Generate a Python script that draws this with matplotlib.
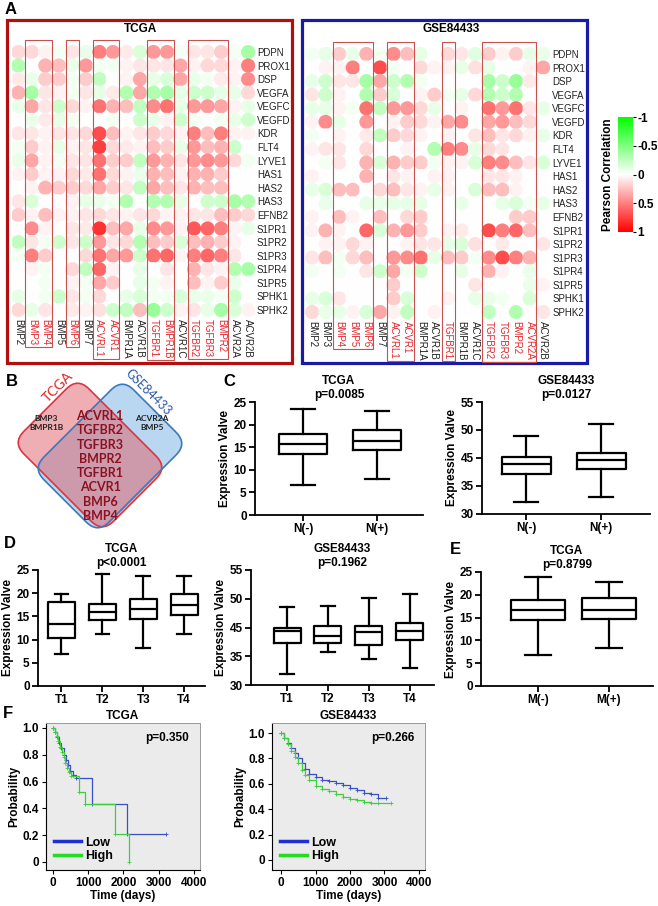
import numpy as np
import matplotlib
matplotlib.use('Agg')
import matplotlib.pyplot as plt
from matplotlib.colors import LinearSegmentedColormap, Normalize
from matplotlib.cm import ScalarMappable
from matplotlib.patches import Rectangle, FancyBboxPatch
from matplotlib.transforms import Affine2D

plt.rcParams['font.family'] = ['Liberation Sans', 'DejaVu Sans']

W, H = 658, 906

# ---- panel A data ----
genes = ['PDPN', 'PROX1', 'DSP', 'VEGFA', 'VEGFC', 'VEGFD', 'KDR', 'FLT4', 'LYVE1', 'HAS1',
         'HAS2', 'HAS3', 'EFNB2', 'S1PR1', 'S1PR2', 'S1PR3', 'S1PR4', 'S1PR5', 'SPHK1', 'SPHK2']
tcga_cols = ['BMP2', 'BMP3', 'BMP4', 'BMP5', 'BMP6', 'BMP7', 'ACVRL1', 'ACVR1', 'BMPR1A', 'ACVR1B',
             'TGFBR1', 'BMPR1B', 'ACVR1C', 'TGFBR2', 'TGFBR3', 'BMPR2', 'ACVR2A', 'ACVR2B']
gse_cols = ['BMP2', 'BMP3', 'BMP4', 'BMP5', 'BMP6', 'BMP7', 'ACVRL1', 'ACVR1', 'BMPR1A', 'ACVR1B',
            'TGFBR1', 'BMPR1B', 'ACVR1C', 'TGFBR2', 'TGFBR3', 'BMPR2', 'ACVR2A', 'ACVR2B']
tcga_groups = [['BMP3', 'BMP4'], ['BMP6'], ['ACVRL1', 'ACVR1'], ['TGFBR1', 'BMPR1B'],
               ['TGFBR2', 'TGFBR3', 'BMPR2']]
gse_groups = [['BMP4', 'BMP5', 'BMP6'], ['ACVRL1', 'ACVR1'], ['TGFBR1'],
              ['TGFBR2', 'TGFBR3', 'BMPR2', 'ACVR2A']]

tcga_corr = [
    [0.15, 0.15, 0.05, -0.05, 0.1, -0.08, 0.5, 0.4, 0.08, -0.15, 0.4, 0.4, -0.05, 0.1, 0.1, 0.2, -0.05, -0.35],
    [-0.3, 0.0, 0.3, 0.25, -0.08, 0.4, -0.05, -0.05, 0.05, 0.1, 0.1, 0.1, 0.35, 0.05, 0.15, 0.15, 0.05, 0.5],
    [0.08, -0.08, 0.2, 0.2, -0.05, 0.2, -0.25, 0.0, 0.05, 0.35, -0.1, -0.15, 0.35, -0.08, -0.05, 0.08, 0.05, 0.45],
    [0.3, -0.35, 0.1, 0.05, -0.05, 0.1, -0.1, 0.08, -0.3, 0.35, -0.3, -0.35, -0.1, -0.2, -0.2, -0.1, -0.1, 0.15],
    [-0.08, 0.35, 0.1, -0.2, 0.15, 0.05, 0.55, 0.3, 0.25, -0.25, 0.45, 0.55, -0.1, 0.4, 0.4, 0.35, 0.05, -0.1],
    [0.0, -0.08, 0.08, -0.1, -0.05, 0.0, 0.0, -0.05, 0.0, -0.2, -0.08, 0.05, -0.2, -0.05, 0.0, -0.05, -0.1, -0.2],
    [0.1, 0.1, 0.05, 0.1, 0.1, 0.15, 0.7, 0.25, 0.05, 0.1, 0.2, 0.15, 0.05, 0.5, 0.25, 0.5, 0.05, 0.05],
    [-0.05, 0.2, 0.05, -0.1, 0.05, 0.1, 0.75, 0.15, 0.08, 0.05, 0.25, 0.2, -0.1, 0.4, 0.25, 0.3, -0.2, 0.0],
    [-0.08, 0.35, 0.05, -0.05, 0.1, 0.1, 0.55, 0.2, 0.2, -0.25, 0.4, 0.3, 0.1, 0.4, 0.45, 0.4, 0.15, -0.05],
    [0.05, 0.2, 0.05, 0.05, 0.15, 0.08, 0.55, 0.15, 0.05, -0.08, 0.3, 0.25, 0.05, 0.3, 0.3, 0.2, 0.0, 0.0],
    [0.0, 0.05, 0.3, 0.2, 0.2, 0.15, 0.35, 0.2, 0.1, -0.25, 0.35, 0.25, 0.1, 0.3, 0.25, 0.25, 0.0, 0.0],
    [0.1, -0.15, 0.0, 0.0, 0.05, -0.1, -0.08, -0.05, -0.3, 0.0, -0.3, -0.3, -0.1, 0.0, -0.2, -0.2, -0.35, -0.3],
    [0.2, 0.05, 0.25, 0.05, 0.05, 0.1, 0.15, 0.1, 0.05, 0.1, 0.15, 0.05, 0.05, 0.1, 0.1, 0.25, 0.2, 0.15],
    [0.0, 0.45, 0.05, 0.0, 0.1, 0.08, 0.8, 0.25, 0.35, -0.1, 0.45, 0.4, 0.05, 0.65, 0.6, 0.5, 0.05, -0.1],
    [-0.25, 0.1, -0.05, -0.2, 0.1, -0.2, 0.4, 0.1, 0.15, -0.3, 0.25, 0.2, -0.15, 0.25, 0.3, 0.2, 0.05, 0.0],
    [-0.05, 0.5, 0.2, 0.0, 0.0, 0.15, 0.55, 0.35, 0.4, -0.2, 0.55, 0.6, 0.05, 0.5, 0.6, 0.5, 0.1, 0.0],
    [0.0, 0.05, -0.05, 0.0, 0.15, -0.25, 0.6, 0.05, 0.0, -0.1, 0.0, 0.1, 0.0, 0.3, 0.1, 0.05, -0.3, -0.35],
    [0.0, 0.0, -0.05, 0.0, 0.05, -0.05, 0.35, 0.2, 0.0, -0.1, -0.05, 0.05, 0.0, 0.25, 0.05, 0.2, -0.08, 0.0],
    [-0.1, 0.0, -0.05, -0.2, 0.1, -0.05, 0.15, 0.0, -0.1, -0.15, -0.05, -0.05, -0.15, -0.08, -0.08, -0.05, -0.2, 0.0],
    [0.15, -0.1, 0.1, 0.0, 0.08, 0.05, 0.12, -0.2, -0.25, 0.25, -0.4, -0.2, 0.05, 0.1, -0.1, -0.35, -0.15, 0.05],
]

gse_corr = [
    [-0.05, -0.1, 0.2, -0.08, 0.3, -0.05, 0.45, 0.25, -0.1, 0.0, 0.15, 0.1, -0.12, 0.2, 0.05, 0.2, -0.1, -0.08],
    [0.0, 0.05, 0.05, 0.5, 0.0, 0.7, -0.05, 0.0, 0.15, 0.05, 0.05, -0.1, 0.12, -0.1, 0.0, 0.0, 0.05, 0.35],
    [-0.1, -0.2, 0.1, 0.1, -0.35, 0.35, -0.2, -0.3, -0.05, 0.0, 0.0, 0.0, 0.0, -0.35, -0.2, -0.4, 0.08, 0.0],
    [0.1, -0.2, 0.05, 0.0, -0.3, 0.2, -0.15, 0.0, 0.05, 0.2, -0.05, -0.1, 0.15, -0.3, -0.2, -0.3, 0.0, 0.0],
    [-0.1, -0.1, 0.05, -0.05, 0.55, -0.25, 0.4, 0.4, 0.15, -0.1, 0.0, 0.05, 0.0, 0.55, 0.4, 0.55, 0.1, -0.1],
    [0.05, 0.45, -0.1, 0.0, 0.4, 0.0, 0.05, 0.2, 0.15, 0.05, 0.35, 0.45, 0.0, 0.35, 0.4, 0.25, 0.15, 0.0],
    [-0.05, 0.0, 0.05, 0.0, 0.08, -0.25, 0.2, 0.15, 0.05, 0.0, 0.05, 0.0, 0.1, 0.25, 0.1, 0.15, 0.05, -0.1],
    [0.05, 0.1, 0.1, 0.0, 0.15, 0.0, 0.0, 0.05, 0.0, -0.3, 0.5, 0.45, -0.1, 0.15, 0.1, 0.0, 0.0, 0.0],
    [0.0, -0.05, 0.1, 0.0, 0.3, -0.15, 0.3, 0.2, 0.2, -0.05, 0.05, 0.05, -0.15, 0.5, 0.45, 0.25, 0.1, -0.15],
    [0.05, 0.0, 0.0, 0.0, 0.3, 0.0, 0.1, 0.05, 0.0, 0.05, 0.05, 0.0, 0.0, 0.1, 0.1, 0.05, 0.0, 0.0],
    [-0.1, -0.15, 0.25, 0.25, 0.0, 0.15, 0.25, 0.1, 0.05, -0.1, 0.05, 0.0, -0.15, 0.25, 0.25, 0.05, 0.0, 0.0],
    [0.0, -0.08, 0.0, 0.0, -0.1, -0.08, -0.1, -0.1, -0.1, 0.0, 0.0, -0.08, 0.0, 0.0, -0.1, -0.15, -0.05, -0.1],
    [0.05, 0.0, 0.25, 0.05, 0.0, 0.25, 0.0, 0.15, 0.2, 0.0, 0.0, 0.0, 0.0, 0.0, 0.0, 0.2, 0.2, 0.0],
    [0.05, 0.3, 0.05, 0.0, 0.6, -0.15, 0.3, 0.4, 0.2, 0.0, 0.05, 0.08, 0.0, 0.7, 0.5, 0.6, 0.25, 0.0],
    [0.0, 0.05, 0.05, 0.15, 0.05, 0.0, 0.0, 0.05, 0.1, 0.1, -0.1, -0.15, 0.12, 0.0, 0.08, 0.0, 0.0, 0.1],
    [0.1, 0.25, -0.05, 0.15, 0.25, 0.0, 0.4, 0.45, 0.55, -0.1, 0.25, 0.2, -0.05, 0.45, 0.7, 0.5, 0.3, 0.0],
    [-0.05, 0.0, -0.05, 0.0, 0.1, -0.2, 0.35, -0.05, -0.2, 0.0, 0.0, -0.1, 0.0, 0.3, 0.05, 0.0, -0.08, 0.0],
    [0.0, 0.0, 0.0, 0.0, 0.0, 0.0, 0.2, 0.0, 0.0, 0.0, 0.0, 0.0, 0.1, 0.0, 0.0, 0.0, -0.08, 0.05],
    [-0.1, -0.15, 0.1, 0.0, 0.0, 0.0, 0.2, -0.15, 0.0, 0.0, 0.05, 0.0, -0.1, -0.08, -0.05, 0.0, -0.15, 0.0],
    [0.15, -0.08, -0.1, 0.05, -0.15, 0.35, 0.05, -0.25, 0.0, 0.05, 0.0, 0.0, 0.0, -0.25, 0.0, -0.3, 0.0, 0.1],
]

# ---- panel B data ----
venn_tcga_only = ['BMP3', 'BMPR1B']
venn_gse_only = ['ACVR2A', 'BMP5']
venn_both = ['ACVRL1', 'TGFBR2', 'TGFBR3', 'BMPR2', 'TGFBR1', 'ACVR1', 'BMP6', 'BMP4']

# ---- panels C, D, E data: (whisker low, q1, median, q3, whisker high) ----
n_groups = ['N(-)', 'N(+)']
t_groups = ['T1', 'T2', 'T3', 'T4']
m_groups = ['M(-)', 'M(+)']
c_tcga_box = [(6.6, 13.5, 15.7, 18.0, 23.4), (7.9, 14.3, 16.4, 18.75, 23.0)]
c_gse_box = [(32.6, 39.0, 41.2, 42.8, 47.4), (33.7, 40.1, 42.1, 43.7, 50.0)]
d_tcga_box = [(6.8, 10.4, 13.3, 18.2, 19.8), (11.2, 14.2, 16.0, 17.7, 24.1),
              (8.1, 14.4, 16.5, 18.7, 23.6), (11.3, 15.3, 17.4, 19.8, 23.7)]
d_gse_box = [(32.4, 39.2, 41.7, 42.5, 46.9), (37.1, 39.1, 40.7, 42.8, 47.2),
             (35.6, 38.7, 41.6, 42.8, 49.0), (33.6, 39.8, 41.7, 43.4, 49.7)]
e_tcga_box = [(6.9, 14.5, 16.7, 18.9, 24.0), (8.4, 14.6, 16.7, 19.3, 22.7)]
tcga_yticks = [0, 5, 10, 15, 20, 25]
gse_yticks = [30, 36.25, 42.5, 48.75, 55]
gse_ytick_labels = ['30', '35', '45', '50', '55']

# ---- panel F data (Kaplan-Meier steps) ----
tcga_low_t = [0, 60, 120, 180, 240, 300, 360, 420, 480, 560, 650, 1100, 2100, 3200]
tcga_low_s = [1.0, 0.97, 0.93, 0.89, 0.85, 0.80, 0.76, 0.72, 0.68, 0.65, 0.63, 0.43, 0.21, 0.21]
tcga_high_t = [0, 50, 100, 150, 200, 250, 300, 350, 400, 450, 500, 730, 920, 1770, 2150]
tcga_high_s = [1.0, 0.97, 0.94, 0.90, 0.86, 0.82, 0.78, 0.74, 0.70, 0.67, 0.64, 0.52, 0.43, 0.21, 0.0]
gse_low_t = [0, 100, 200, 300, 400, 500, 600, 700, 800, 1000, 1200, 1400, 1600, 1800, 2000,
             2200, 2400, 2600, 2800, 3050]
gse_low_s = [1.0, 0.96, 0.92, 0.88, 0.84, 0.80, 0.76, 0.72, 0.68, 0.65, 0.63, 0.62, 0.61, 0.59, 0.57,
             0.55, 0.53, 0.52, 0.49, 0.49]
gse_high_t = [0, 100, 200, 300, 400, 500, 600, 700, 800, 1000, 1200, 1400, 1600, 1800, 2000,
              2200, 2400, 2600, 2800, 3200]
gse_high_s = [1.0, 0.96, 0.91, 0.86, 0.81, 0.76, 0.71, 0.67, 0.63, 0.58, 0.56, 0.54, 0.52, 0.50, 0.48,
              0.47, 0.46, 0.45, 0.45, 0.45]

RED_LABEL = '#e3262d'
BOX_RED = '#c8504f'
cmap = LinearSegmentedColormap.from_list('gwr', ['#00ff00', '#ffffff', '#ff0000'])

fig = plt.figure(figsize=(W / 100, H / 100), dpi=100)


def px_axes(x0, y0, x1, y1):
    return fig.add_axes([x0 / W, 1 - y1 / H, (x1 - x0) / W, (y1 - y0) / H])


canvas = px_axes(0, 0, W, H)
canvas.set_xlim(0, W)
canvas.set_ylim(H, 0)
canvas.axis('off')


def heatmap(x0, dx, y0, dy, cols, corr, red):
    nc, nr = len(cols), len(genes)
    ax = px_axes(x0 - dx / 2, y0 - dy / 2, x0 + dx * (nc - 0.5), y0 + dy * (nr - 0.5))
    ax.patch.set_visible(False)
    xx, yy = np.meshgrid(np.arange(nc), np.arange(nr))
    ax.scatter(xx.ravel(), yy.ravel(), c=np.array(corr).ravel(), cmap=cmap, vmin=-1, vmax=1,
               s=105, linewidths=0)
    ax.set_xlim(-0.5, nc - 0.5)
    ax.set_ylim(nr - 0.5, -0.5)
    for sp in ax.spines.values():
        sp.set_visible(False)
    ax.yaxis.tick_right()
    ax.set_yticks(range(nr))
    ax.set_yticklabels(genes, fontsize=7, color='#222222')
    ax.set_xticks(range(nc))
    ax.set_xticklabels(cols, rotation=-90, fontsize=7)
    for lab in ax.get_xticklabels():
        lab.set_color(RED_LABEL if lab.get_text() in red else '#222222')
    ax.tick_params(length=0, pad=1.5)
    return ax


tcga_red = [g for grp in tcga_groups for g in grp]
gse_red = [g for grp in gse_groups for g in grp]
ax_t = heatmap(18.3, 13.52, 52, 13.58, tcga_cols, tcga_corr, tcga_red)
ax_g = heatmap(312, 13.6, 54, 13.58, gse_cols, gse_corr, gse_red)

# frames and titles of panel A
canvas.add_patch(Rectangle((7, 20), 285, 343, fill=False, ec='#b01010', lw=2.3))
canvas.add_patch(Rectangle((302, 20), 285, 343, fill=False, ec='#1a1aa8', lw=2.3))
canvas.text(141, 29, 'TCGA', ha='center', va='center', fontsize=8.5, fontweight='bold')
canvas.text(451, 29, 'GSE84433', ha='center', va='center', fontsize=8.5, fontweight='bold')
for letter, x, y in [('A', 11, 9), ('B', 12, 382), ('C', 229, 382), ('D', 10, 544),
                     ('E', 455, 550), ('F', 8, 713)]:
    canvas.text(x, y, letter, ha='center', va='center', fontsize=12, fontweight='bold')

# colorbar
cax = px_axes(618, 117, 633, 232)
cb = fig.colorbar(ScalarMappable(norm=Normalize(-1, 1), cmap=cmap), cax=cax,
                  ticks=[-1, -0.5, 0, 0.5, 1])
cax.invert_yaxis()
cb.outline.set_visible(False)
cax.set_yticklabels(['-1', '-0.5', '0', '0.5', '1'], fontweight='bold', fontsize=8.5)
cax.tick_params(length=2, pad=1)
cax.yaxis.set_label_position('left')
cb.set_label('Pearson Correlation', fontsize=8.5, fontweight='bold', labelpad=3)

# ---- panel B: Venn of rounded rectangles ----
venn_shapes = [((-63.5, -46, 127, 92, 90, 455), '#e15f69', '#df3340'),
               ((-46, -63.5, 92, 127, 110, 456), '#b9d7f0', '#3a78c0')]


def venn_patch(shape, **kw):
    x, y, w, h, cx, cy = shape
    return FancyBboxPatch((x, y), w, h, boxstyle='round,pad=0,rounding_size=16',
                          transform=Affine2D().rotate_deg(45).translate(cx, cy) + canvas.transData, **kw)


canvas.add_patch(venn_patch(venn_shapes[1][0], fc=venn_shapes[1][1], ec='none'))
canvas.add_patch(venn_patch(venn_shapes[0][0], fc=venn_shapes[0][1], ec='none', alpha=0.5))
for shape, _, edge in venn_shapes:
    canvas.add_patch(venn_patch(shape, fill=False, ec=edge, lw=1.2))
canvas.text(58, 387, 'TCGA', rotation=45, color='#e02020', fontsize=10, ha='center', va='center',
            family=['Lato', 'DejaVu Sans'])
canvas.text(148, 392, 'GSE84433', rotation=-45, color='#2a5aa8', fontsize=9, ha='center', va='center',
            family=['Lato', 'DejaVu Sans'])
canvas.text(46, 423, '\n'.join(venn_tcga_only), ha='center', va='center', fontsize=6, fontweight='bold',
            color='#222222', linespacing=1.3, family=['Lato', 'DejaVu Sans'])
canvas.text(152, 423, '\n'.join(venn_gse_only), ha='center', va='center', fontsize=6, fontweight='bold',
            color='#222222', linespacing=1.3, family=['Lato', 'DejaVu Sans'])
canvas.text(100, 466, '\n'.join(venn_both), ha='center', va='center', fontsize=9, fontweight='bold',
            color='#8b1020', linespacing=1.22, family=['Lato', 'DejaVu Sans'])


# ---- panels C, D, E: box plots ----
def boxpanel(rect, boxes, groups, xlim, width, ylim, yticks, ylabels, title):
    ax = px_axes(*rect)
    ax.patch.set_visible(False)
    stats = [dict(whislo=b[0], q1=b[1], med=b[2], q3=b[3], whishi=b[4], label=g)
             for b, g in zip(boxes, groups)]
    lp = dict(color='black', lw=1.6)
    ax.bxp(stats, positions=range(1, len(boxes) + 1), widths=width, capwidths=width * 0.5,
           showfliers=False, boxprops=lp, whiskerprops=lp, capprops=lp, medianprops=lp)
    ax.set_xlim(*xlim)
    ax.set_ylim(*ylim)
    ax.set_yticks(yticks)
    ax.set_yticklabels(ylabels, fontweight='bold', fontsize=8.5)
    for lab in ax.get_xticklabels():
        lab.set_fontweight('bold')
        lab.set_fontsize(8.5)
    ax.spines[['top', 'right']].set_visible(False)
    ax.spines[['left', 'bottom']].set_linewidth(1.3)
    ax.tick_params(width=1.3, length=4, pad=2)
    ax.set_ylabel('Expression Valve', fontsize=8.5, fontweight='bold', labelpad=2)
    ax.set_title(title, fontsize=8.5, fontweight='bold', pad=3, linespacing=1.15)
    return ax


tick_txt = [str(v) for v in tcga_yticks]
boxpanel((255, 402, 423, 515), c_tcga_box, n_groups, (0.35, 2.62), 0.65, (0, 25), tcga_yticks, tick_txt,
         'TCGA\np=0.0085')
boxpanel((482, 402, 650, 514), c_gse_box, n_groups, (0.41, 2.65), 0.65, (30, 55), gse_yticks,
         gse_ytick_labels, 'GSE84433\np=0.0127')
boxpanel((38, 570, 205, 686), d_tcga_box, t_groups, (0.43, 4.51), 0.66, (0, 25), tcga_yticks, tick_txt,
         'TCGA\np<0.0001')
boxpanel((251, 570, 434, 685), d_gse_box, t_groups, (0.12, 4.59), 0.66, (30, 55), gse_yticks,
         gse_ytick_labels, 'GSE84433\np=0.1962')
boxpanel((481, 572, 653, 686), e_tcga_box, m_groups, (0.2, 2.62), 0.75, (0, 25), tcga_yticks, tick_txt,
         'TCGA\np=0.8799')


# ---- panel F: survival curves ----
def kmpanel(rect, xlim, ylim, low, high, ptxt, title):
    ax = px_axes(*rect)
    ax.set_facecolor('#ebebeb')
    ax.plot(low[0], low[1], drawstyle='steps-post', color='#3a4fc4', lw=0.9, marker='+', ms=3, mew=0.6)
    ax.plot(high[0], high[1], drawstyle='steps-post', color='#3ecf3e', lw=0.9, marker='+', ms=3, mew=0.6)
    ax.plot([], [], color='#1f2fd0', lw=2.5, label='Low')
    ax.plot([], [], color='#22dd22', lw=2.5, label='High')
    ax.set_xlim(*xlim)
    ax.set_ylim(*ylim)
    ax.set_xticks([0, 1000, 2000, 3000, 4000])
    ax.set_yticks([0, 0.2, 0.4, 0.6, 0.8, 1.0])
    ax.set_yticklabels(['0', '0.2', '0.4', '0.6', '0.8', '1.0'])
    for lab in ax.get_xticklabels() + ax.get_yticklabels():
        lab.set_fontweight('bold')
        lab.set_fontsize(8.5)
    for s in ['top', 'right']:
        ax.spines[s].set_color('#9a9a9a')
        ax.spines[s].set_linewidth(0.7)
    ax.tick_params(length=3, pad=2)
    ax.set_xlabel('Time (days)', fontsize=8.5, fontweight='bold', labelpad=1)
    ax.set_ylabel('Probability', fontsize=8.5, fontweight='bold', labelpad=2)
    ax.set_title(title, fontsize=8.5, fontweight='bold', pad=3)
    ax.text(0.93, 0.94, ptxt, transform=ax.transAxes, ha='right', va='top', fontsize=8.5,
            fontweight='bold')
    ax.legend(loc='lower left', frameon=False, handlelength=2.2, handletextpad=0.3, labelspacing=0.15,
              borderaxespad=0.2, prop=dict(weight='bold', size=9))
    return ax


kmpanel((46, 723, 200, 870), (-199, 4176), (-0.06, 1.037), (tcga_low_t, tcga_low_s),
        (tcga_high_t, tcga_high_s), 'p=0.350', 'TCGA')
kmpanel((272, 723, 425, 870), (-261, 4174), (-0.079, 1.079), (gse_low_t, gse_low_s),
        (gse_high_t, gse_high_s), 'p=0.266', 'GSE84433')

# group boxes around highlighted columns and their labels, drawn above the circles
fig.canvas.draw()
renderer = fig.canvas.get_renderer()


def group_boxes(ax, cols, groups, x0, dx, top):
    labels = ax.get_xticklabels()
    for grp in groups:
        idx = [cols.index(g) for g in grp]
        bottom = max(H - labels[i].get_window_extent(renderer).y0 for i in idx) + 2
        left = x0 + dx * min(idx) - 6.5
        right = x0 + dx * max(idx) + 6.5
        ax.add_patch(Rectangle((left, top), right - left, bottom - top, fill=False, ec=BOX_RED, lw=0.8,
                               transform=canvas.transData, clip_on=False, zorder=5))


group_boxes(ax_t, tcga_cols, tcga_groups, 18.3, 13.52, 40)
group_boxes(ax_g, gse_cols, gse_groups, 312, 13.6, 42)

fig.savefig('out.png', dpi=100)
